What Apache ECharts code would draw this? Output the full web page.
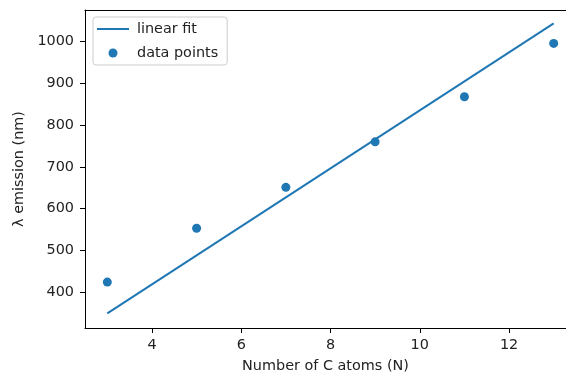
<!DOCTYPE html>
<html>
<head>
<meta charset="utf-8">
<script src="https://cdn.jsdelivr.net/npm/echarts@6/dist/echarts.min.js"></script>
<style>html,body{margin:0;padding:0;background:#fff}#c{width:566px;height:378px}</style>
</head>
<body>
<div id="c"></div>
<script>
// data
var pointX = [3, 5, 7, 9, 11, 13];
var pointY = [424, 553, 651, 760, 868, 996];
var fitX = [3, 13];
var fitY = [349, 1044];
var xTicks = [4, 6, 8, 10, 12];
var yTicks = [400, 500, 600, 700, 800, 900, 1000];

var FONT = 'DejaVu Sans';
var TXT = '#222';
var FS = 14.4;
var chart = echarts.init(document.getElementById('c'), null, {renderer: 'canvas'});
chart.setOption({
  animation: false,
  textStyle: {fontFamily: FONT},
  grid: {left: 85, right: 0, top: 10, bottom: 49, show: false},
  legend: {
    orient: 'vertical', left: 93, top: 17,
    itemWidth: 32, itemHeight: 9, itemGap: 10,
    padding: [5, 9, 5, 4],
    borderColor: '#cccccc', borderWidth: 1, borderRadius: 3,
    backgroundColor: 'rgba(255,255,255,0.8)',
    textStyle: {fontFamily: FONT, fontSize: FS, color: TXT, padding: [0, 0, 0, 3]},
    data: [
      {name: 'linear fit', icon: 'path://M0,0M0,9M0,3.5h32v2h-32z', itemStyle: {color: '#1f77b4'}},
      {name: 'data points', icon: 'circle'}
    ]
  },
  xAxis: [{
    type: 'value', min: 2.5, max: 13.276,
    name: 'Number of C atoms (N)', nameLocation: 'middle', nameGap: 31,
    nameTextStyle: {fontFamily: FONT, fontSize: FS, color: TXT},
    axisLine: {show: true, onZero: false, lineStyle: {color: '#000', width: 1}},
    axisTick: {show: true, length: 5, customValues: xTicks, lineStyle: {color: '#000', width: 1}},
    axisLabel: {customValues: xTicks, margin: 10, fontFamily: FONT, fontSize: FS, color: TXT},
    splitLine: {show: false}
  }, {
    type: 'value', position: 'top', min: 2.5, max: 13.276,
    axisLine: {show: true, onZero: false, lineStyle: {color: '#000', width: 1}},
    axisTick: {show: false}, axisLabel: {show: false}, splitLine: {show: false}
  }],
  yAxis: {
    type: 'value', min: 314, max: 1076,
    name: 'λ emission (nm)', nameLocation: 'middle', nameGap: 58, nameRotate: 90,
    nameTextStyle: {fontFamily: FONT, fontSize: FS, color: TXT},
    axisLine: {show: true, onZero: false, lineStyle: {color: '#000', width: 1}},
    axisTick: {show: true, length: 5, customValues: yTicks, lineStyle: {color: '#000', width: 1}},
    axisLabel: {customValues: yTicks, margin: 11, fontFamily: FONT, fontSize: FS, color: TXT,
      formatter: function (v) { return String(v); }},
    splitLine: {show: false}
  },
  series: [
    {
      name: 'linear fit', type: 'line', symbol: 'none',
      data: fitX.map(function (x, i) { return [x, fitY[i]]; }),
      lineStyle: {color: '#1f77b4', width: 2},
      itemStyle: {color: '#1f77b4'},
      z: 2
    },
    {
      name: 'data points', type: 'scatter', symbol: 'circle', symbolSize: 9,
      data: pointX.map(function (x, i) { return [x, pointY[i]]; }),
      itemStyle: {color: '#1f77b4', opacity: 1},
      z: 3
    }
  ]
});
</script>
</body>
</html>
